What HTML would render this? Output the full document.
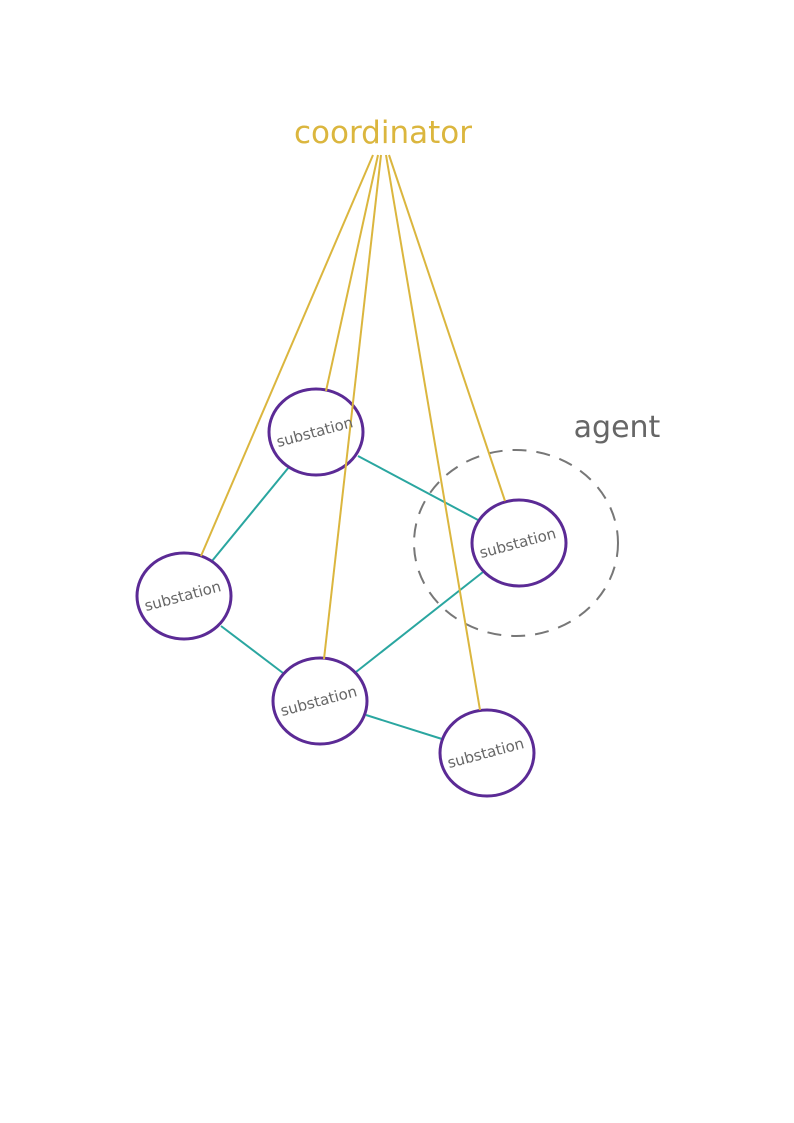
<!DOCTYPE html>
<html><head><style>body{margin:0;background:#fff}svg{display:block}</style></head>
<body>
<svg width="794" height="1123" xmlns="http://www.w3.org/2000/svg" font-family="Liberation Sans, DejaVu Sans, sans-serif">
<text x="383" y="143" font-size="31" fill="#dbb63e" text-anchor="middle" font-family="DejaVu Sans, sans-serif">coordinator</text>
<text x="617" y="437" font-size="30" fill="#666" text-anchor="middle" font-family="DejaVu Sans, sans-serif">agent</text>
<ellipse cx="516" cy="543" rx="102" ry="93" fill="none" stroke="#777" stroke-width="2" stroke-dasharray="14,10"/>
<g stroke="#2aa6a0" stroke-width="2">
<line x1="289" y1="467" x2="212" y2="561"/>
<line x1="358" y1="456" x2="478" y2="520"/>
<line x1="221" y1="626" x2="283" y2="673"/>
<line x1="356" y1="672" x2="483" y2="572"/>
<line x1="366" y1="715" x2="442" y2="739"/>
</g>
<g fill="none" stroke="#5b2a95" stroke-width="3">
<ellipse cx="316" cy="432" rx="47" ry="43"/>
<ellipse cx="184" cy="596" rx="47" ry="43"/>
<ellipse cx="519" cy="543" rx="47" ry="43"/>
<ellipse cx="320" cy="701" rx="47" ry="43"/>
<ellipse cx="487" cy="753" rx="47" ry="43"/>
</g>
<g stroke="#dbb63e" stroke-width="2">
<line x1="373" y1="155" x2="201" y2="556"/>
<line x1="378" y1="155" x2="326" y2="391"/>
<line x1="381" y1="155" x2="324" y2="659"/>
<line x1="386" y1="155" x2="480" y2="710"/>
<line x1="389" y1="155" x2="505" y2="501"/>
</g>
<g font-size="15" fill="#666" text-anchor="middle" font-family="DejaVu Sans, sans-serif">
<text transform="translate(316,437) rotate(-15)">substation</text>
<text transform="translate(184,601) rotate(-15)">substation</text>
<text transform="translate(519,548) rotate(-15)">substation</text>
<text transform="translate(320,706) rotate(-15)">substation</text>
<text transform="translate(487,758) rotate(-15)">substation</text>
</g>
</svg>
</body></html>
